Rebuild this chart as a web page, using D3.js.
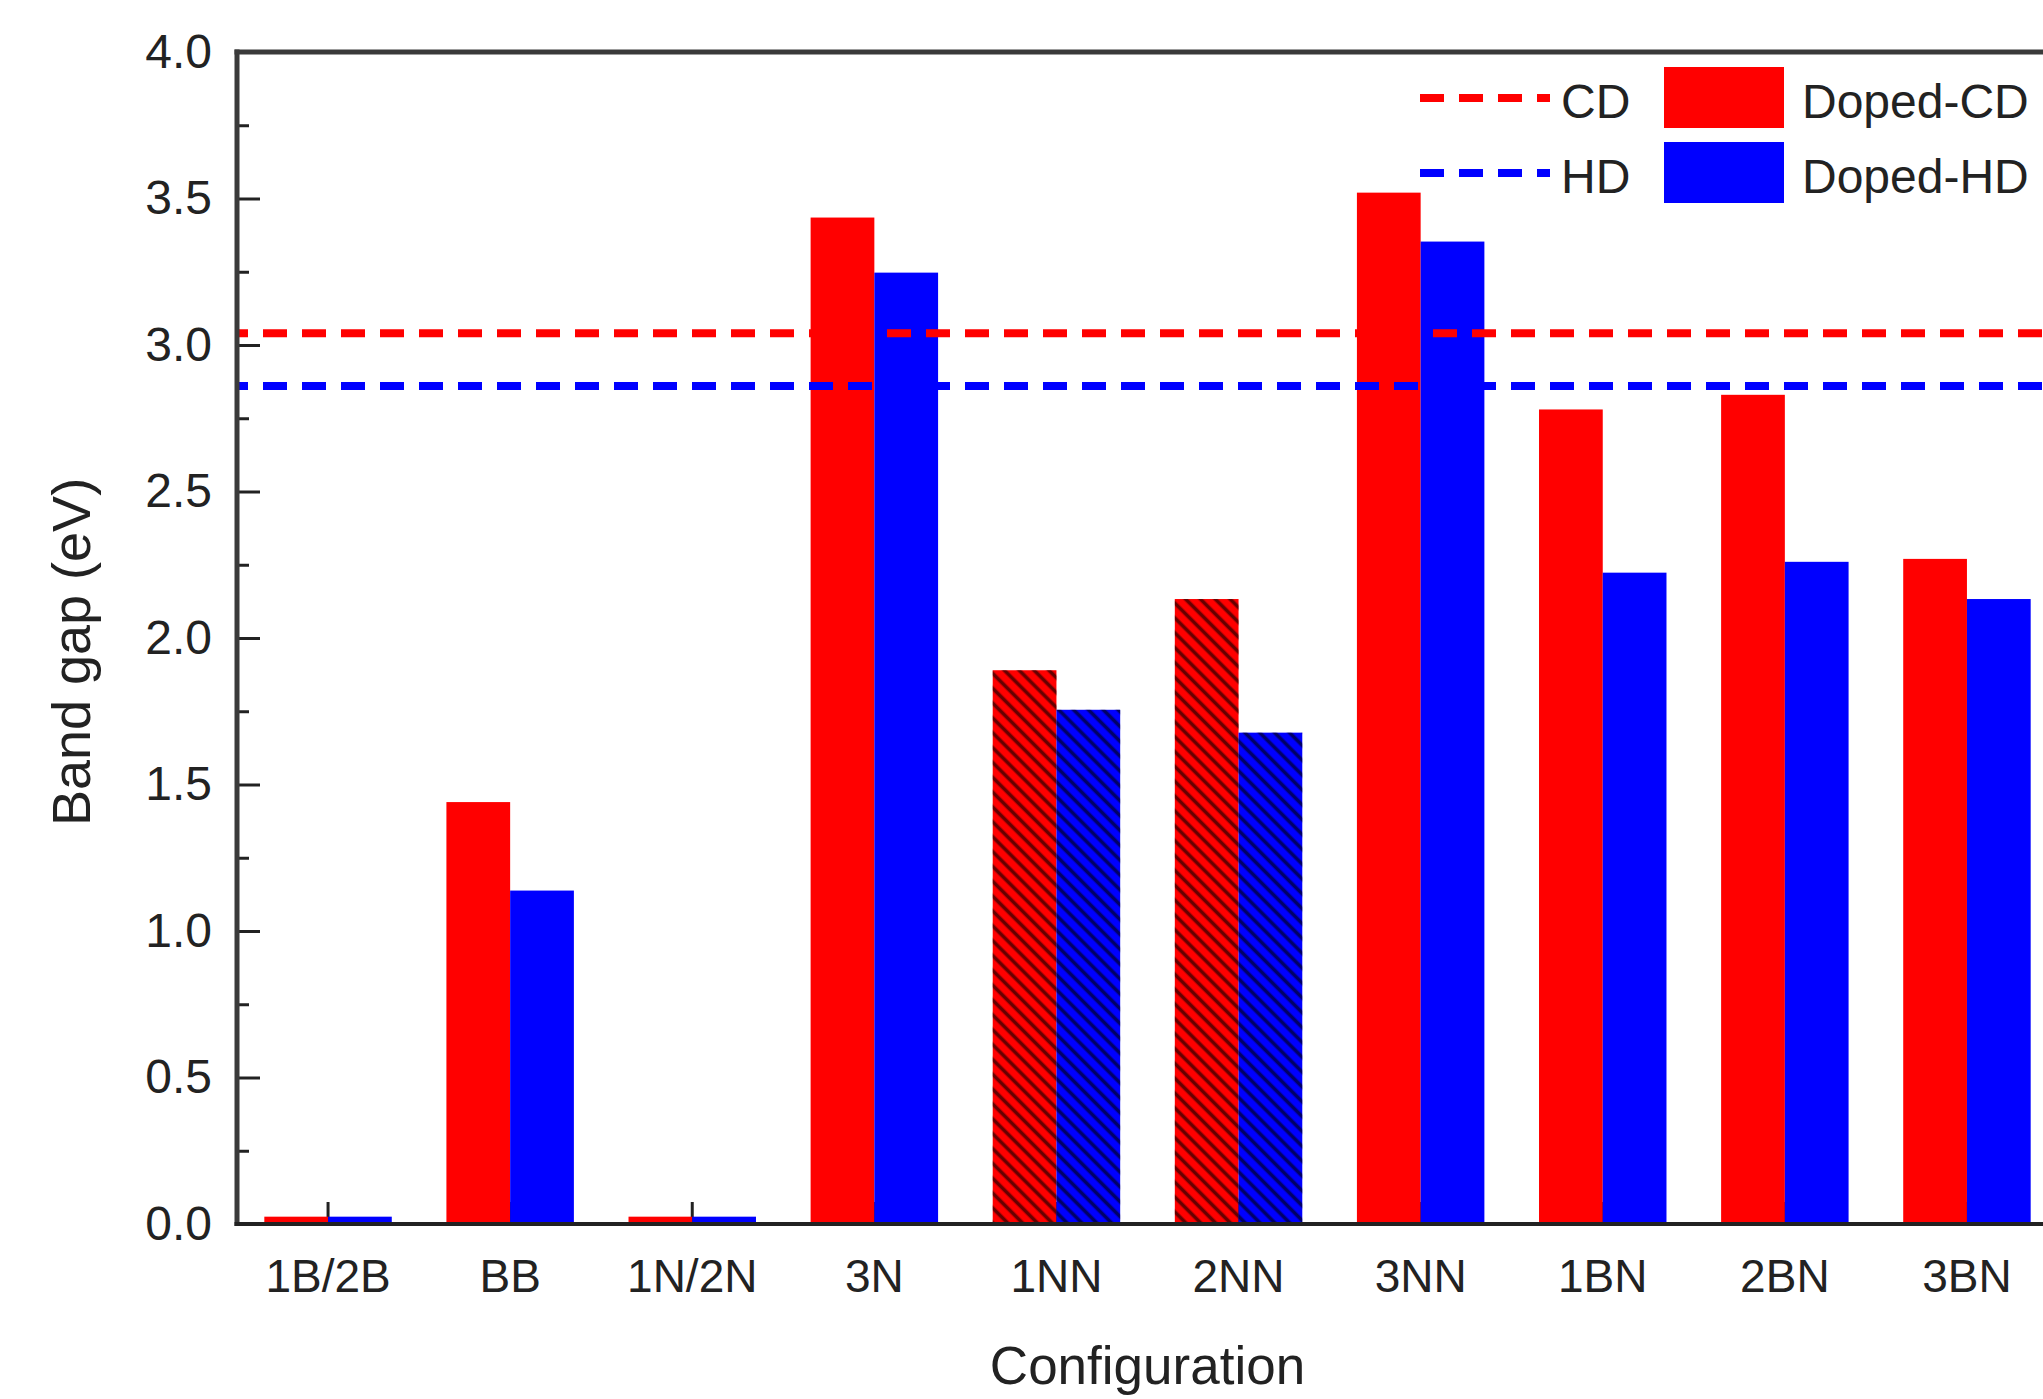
<!DOCTYPE html>
<html>
<head>
<meta charset="utf-8">
<script src="https://cdn.jsdelivr.net/npm/d3@7"></script>
<style>
  html, body { margin: 0; padding: 0; background: #ffffff; }
  svg { display: block; }
  text { font-family: "Liberation Sans", Arial, sans-serif; fill: #222; }
</style>
</head>
<body>
<svg id="chart" width="2043" height="1399"></svg>
<script>
// ---- data ----
const categories = ["1B/2B", "BB", "1N/2N", "3N", "1NN", "2NN", "3NN", "1BN", "2BN", "3BN"];
const dopedCD = [0.025, 1.44, 0.025, 3.435, 1.89, 2.133, 3.52, 2.78, 2.83, 2.27];
const dopedHD = [0.025, 1.138, 0.025, 3.247, 1.755, 1.677, 3.353, 2.223, 2.26, 2.133];
const hatchedCategories = ["1NN", "2NN"];
const refNames = ["CD", "HD"];
const refValues = [3.04, 2.86];
const seriesNames = ["Doped-CD", "Doped-HD"];
const yMajorTicks = [0.0, 0.5, 1.0, 1.5, 2.0, 2.5, 3.0, 3.5, 4.0];
const yMinorTicks = [0.25, 0.75, 1.25, 1.75, 2.25, 2.75, 3.25, 3.75];
const xTitle = "Configuration";
const yTitle = "Band gap (eV)";

(function () {
// ---- layout ----
const colors = ["#ff0000", "#0000ff"];
const pLeft = 237, pRight = 2058, pTop = 52, pBottom = 1224;

const svg = d3.select("#chart");

const x = d3.scaleBand().domain(categories).range([pLeft, pRight]).padding(0);
const y = d3.scaleLinear().domain([0, 4]).range([pBottom, pTop]);
const barW = x.bandwidth() * 0.35;

// hatch pattern ("\" direction)
const hs = 10.5;
const defs = svg.append("defs");
const pat = defs.append("pattern")
  .attr("id", "hatch")
  .attr("patternUnits", "userSpaceOnUse")
  .attr("width", hs).attr("height", hs)
  .attr("patternTransform", "rotate(-45)");
pat.append("line")
  .attr("x1", hs / 2).attr("y1", 0).attr("x2", hs / 2).attr("y2", hs)
  .attr("stroke", "#000").attr("stroke-opacity", 0.6).attr("stroke-width", 3.6);

// x axis ticks (inward), labels
const xAxis = d3.axisBottom(x).tickSizeInner(-22).tickSizeOuter(0).tickPadding(35);
const gx = svg.append("g").attr("transform", `translate(0,${pBottom})`).call(xAxis);
gx.select(".domain").remove();
gx.selectAll(".tick line").attr("stroke", "#222").attr("stroke-width", 3);
gx.selectAll(".tick text").attr("font-size", 46).style("fill", "#222")
  .attr("font-family", "Liberation Sans, Arial, sans-serif");

// y axis major
const yAxis = d3.axisLeft(y).tickValues(yMajorTicks).tickFormat(d3.format(".1f"))
  .tickSizeInner(-23).tickSizeOuter(0).tickPadding(25);
const gy = svg.append("g").attr("transform", `translate(${pLeft},0)`).call(yAxis);
gy.select(".domain").remove();
gy.selectAll(".tick line").attr("stroke", "#222").attr("stroke-width", 3);
gy.selectAll(".tick text").attr("font-size", 48).style("fill", "#222")
  .attr("font-family", "Liberation Sans, Arial, sans-serif");

// y minor
const yAxisMinor = d3.axisLeft(y).tickValues(yMinorTicks).tickFormat("")
  .tickSizeInner(-12).tickSizeOuter(0);
const gym = svg.append("g").attr("transform", `translate(${pLeft},0)`).call(yAxisMinor);
gym.select(".domain").remove();
gym.selectAll(".tick line").attr("stroke", "#222").attr("stroke-width", 3);

// bars
const seriesVals = [dopedCD, dopedHD];
seriesVals.forEach((vals, si) => {
  const g = svg.append("g");
  const data = categories.map((c, i) => ({ c, v: vals[i] }));
  const xo = (d) => x(d.c) + x.bandwidth() / 2 + (si === 0 ? -barW : 0);
  g.selectAll("rect.bar").data(data).join("rect")
    .attr("class", "bar")
    .attr("x", xo)
    .attr("width", barW)
    .attr("y", d => y(d.v))
    .attr("height", d => y(0) - y(d.v))
    .attr("fill", colors[si]);
  g.selectAll("rect.hatch").data(data.filter(d => hatchedCategories.includes(d.c))).join("rect")
    .attr("class", "hatch")
    .attr("x", xo)
    .attr("width", barW)
    .attr("y", d => y(d.v))
    .attr("height", d => y(0) - y(d.v))
    .attr("fill", "url(#hatch)");
});

// reference dashed lines
refValues.forEach((v, i) => {
  svg.append("line")
    .attr("x1", pLeft).attr("x2", pRight)
    .attr("y1", y(v)).attr("y2", y(v))
    .attr("stroke", colors[i])
    .attr("stroke-width", 8)
    .attr("stroke-dasharray", "24,15")
    .attr("stroke-dashoffset", 13);
});

// frame
const frame = svg.append("g").attr("stroke", "#3a3a3a").attr("stroke-width", 5).attr("fill", "none");
frame.append("line").attr("x1", pLeft).attr("x2", pLeft).attr("y1", pTop - 2.5).attr("y2", pBottom + 2);
frame.append("line").attr("x1", pLeft - 2.5).attr("x2", pRight).attr("y1", pTop).attr("y2", pTop);
frame.append("line").attr("x1", pLeft - 2.5).attr("x2", pRight).attr("y1", pBottom).attr("y2", pBottom)
  .attr("stroke", "#222").attr("stroke-width", 4);
frame.append("line").attr("x1", pRight).attr("x2", pRight).attr("y1", pTop).attr("y2", pBottom);

// axis titles
svg.append("text")
  .attr("x", (pLeft + pRight) / 2)
  .attr("y", 1384)
  .attr("text-anchor", "middle")
  .attr("font-size", 53)
  .text(xTitle);
svg.append("text")
  .attr("transform", `translate(90,${(pTop + pBottom) / 2 + 14}) rotate(-90)`)
  .attr("text-anchor", "middle")
  .attr("font-size", 54)
  .text(yTitle);

// legend
const leg = svg.append("g");
refNames.forEach((n, i) => {
  const ly = [98, 173][i];
  leg.append("line")
    .attr("x1", 1420).attr("x2", 1550)
    .attr("y1", ly).attr("y2", ly)
    .attr("stroke", colors[i]).attr("stroke-width", 8)
    .attr("stroke-dasharray", "24,15");
  leg.append("text")
    .attr("x", 1561).attr("y", ly + 20)
    .attr("font-size", 48)
    .text(n);
});
seriesNames.forEach((n, i) => {
  const sy = [67, 142][i];
  leg.append("rect")
    .attr("x", 1664).attr("y", sy)
    .attr("width", 120).attr("height", 61)
    .attr("fill", colors[i]);
  leg.append("text")
    .attr("x", 1802).attr("y", sy + 51)
    .attr("font-size", 48)
    .text(n);
});
})();
</script>
</body>
</html>
